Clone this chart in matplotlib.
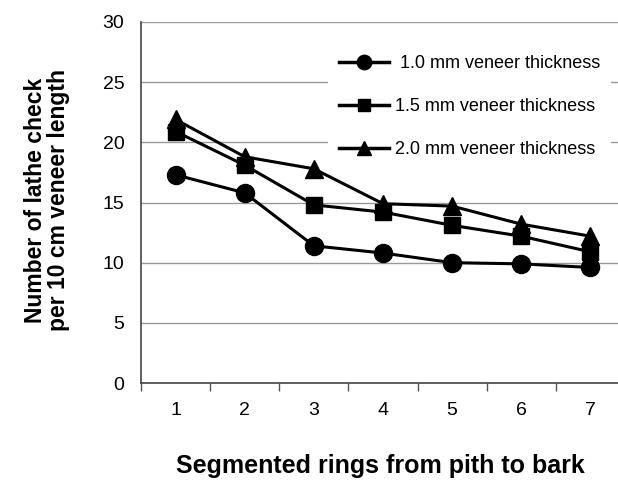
import matplotlib
matplotlib.use("Agg")
import matplotlib.pyplot as plt
from matplotlib.ticker import FixedLocator

rings = [1, 2, 3, 4, 5, 6, 7]
ring_labels = ["1", "2", "3", "4", "5", "6", "7"]
t10 = [17.3, 15.8, 11.4, 10.8, 10.0, 9.9, 9.6]
t15 = [20.9, 18.1, 14.8, 14.2, 13.1, 12.2, 10.9]
t20 = [21.9, 18.8, 17.8, 14.9, 14.7, 13.2, 12.2]
series_names = [" 1.0 mm veneer thickness", "1.5 mm veneer thickness", "2.0 mm veneer thickness"]
yticks = [0, 5, 10, 15, 20, 25, 30]

FAM = ["Liberation Sans", "DejaVu Sans"]
plt.rcParams['font.family'] = FAM

fig = plt.figure(figsize=(6.18, 4.82), dpi=100)
ax = fig.add_axes([141/618, 1-383/482, (625-141)/618, (383-22)/482])

ax.plot(rings, t10, color="black", lw=2.2, marker="o", ms=13, label=series_names[0], zorder=3)
ax.plot(rings, t15, color="black", lw=2.2, marker="s", ms=11, label=series_names[1], zorder=3)
ax.plot(rings, t20, color="black", lw=2.2, marker="^", ms=13, label=series_names[2], zorder=3)

ax.set_xlim(0.5, 7.5)
ax.set_ylim(0, 30)
ax.set_yticks(yticks)
ax.set_yticklabels([str(v) for v in yticks], fontsize=14)
ax.set_xticks(rings)
ax.set_xticklabels(ring_labels, fontsize=14)
ax.xaxis.set_minor_locator(FixedLocator([r - 0.5 for r in rings] + [7.5]))
ax.tick_params(axis='x', which='major', length=0, pad=14)
ax.tick_params(axis='x', which='minor', length=6, width=1, color="#555555", direction='out')
ax.tick_params(axis='y', length=0, pad=12)

ax.grid(axis='y', color="#999999", lw=1)
ax.set_axisbelow(True)
for s in ["top", "right"]:
    ax.spines[s].set_visible(False)
ax.spines["left"].set_color("#444444")
ax.spines["bottom"].set_color("#444444")
ax.spines["left"].set_linewidth(1.2)
ax.spines["bottom"].set_linewidth(1.2)

leg = ax.legend(loc="upper left", bbox_to_anchor=(328/618, 1-44/482), bbox_transform=fig.transFigure,
                frameon=True, fancybox=False, framealpha=1, facecolor="white", edgecolor="none",
                fontsize=13, handlelength=2.8, handletextpad=0.3, labelspacing=1.45,
                markerscale=0.8, borderpad=0.6, borderaxespad=0)
for h in leg.legend_handles:
    h.set_linewidth(2.5)

fig.text(36/618, 1-200/482, "Number of lathe check", rotation=90, ha="center", va="center",
         fontsize=16.5, fontweight="bold")
fig.text(59/618, 1-200/482, "per 10 cm veneer length", rotation=90, ha="center", va="center",
         fontsize=16.5, fontweight="bold")
fig.text(380/618, 1-466/482, "Segmented rings from pith to bark", ha="center", va="center",
         fontsize=18, fontweight="bold")

fig.savefig("out.png", dpi=100)
